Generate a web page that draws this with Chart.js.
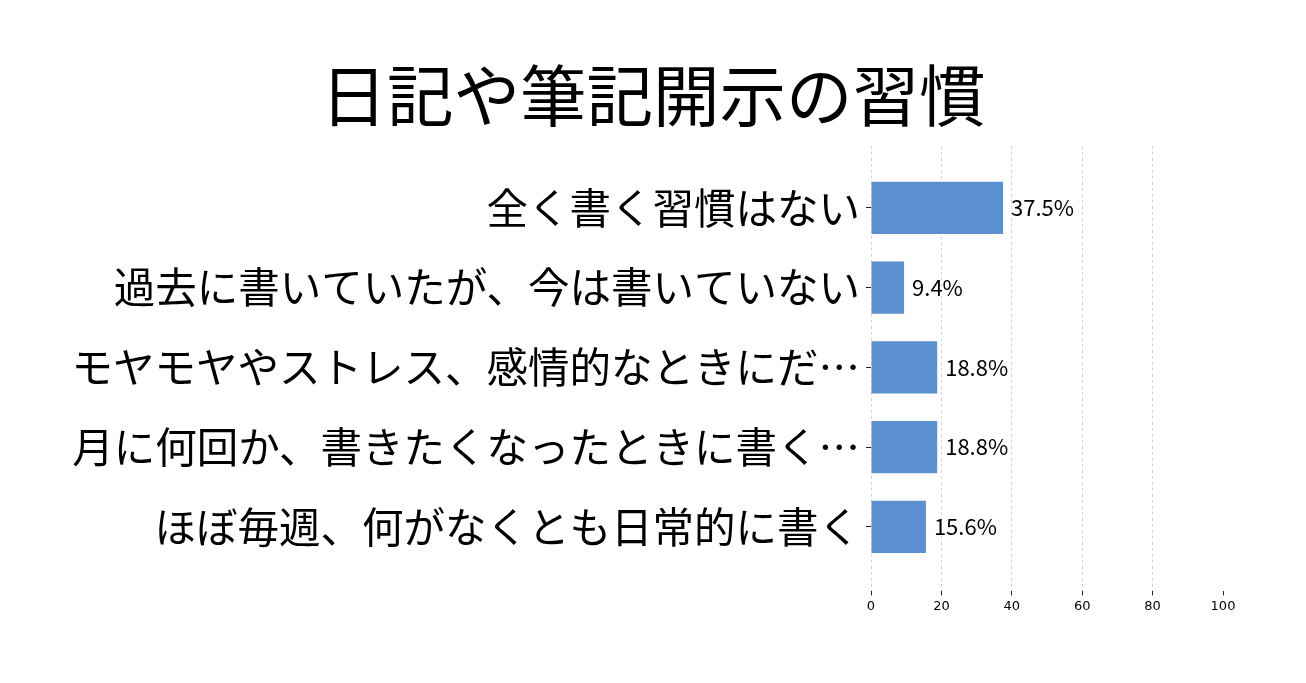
<!DOCTYPE html>
<html>
<head>
<meta charset="utf-8">
<script src="https://cdn.jsdelivr.net/npm/chart.js@4.4.0/dist/chart.umd.min.js"></script>
<style>
  html, body { margin: 0; padding: 0; background: #fff; }
  #wrap { width: 1306px; height: 683px; }
</style>
</head>
<body>
<div id="wrap"><canvas id="habit-chart"></canvas></div>
<script>
// answers, top to bottom
const labelAnswer = [
    "全く書く習慣はない",
    "過去に書いていたが、今は書いていない",
    "モヤモヤやストレス、感情的なときにだ…",
    "月に何回か、書きたくなったときに書く…",
    "ほぼ毎週、何がなくとも日常的に書く"
]
const valuePercent = [37.5, 9.4, 18.8, 18.8, 15.6]
const xTicks = [0, 20, 40, 60, 80, 100]

const jpFont = "'Noto Sans CJK JP', 'Noto Sans', sans-serif"

// value labels at the end of each bar
const barLabels = {
    id: "barLabels",
    afterLayout(chart) {
        // let the long answer labels run past the padding instead of being clipped
        chart.scales.y.left = 0
    },
    afterDatasetsDraw(chart) {
        const ctx = chart.ctx
        const meta = chart.getDatasetMeta(0)
        ctx.save()
        ctx.font = "22px " + jpFont
        ctx.fillStyle = "#000"
        ctx.textAlign = "left"
        ctx.textBaseline = "middle"
        meta.data.forEach((bar, i) => {
            ctx.fillText(valuePercent[i].toFixed(1) + "%", bar.x + 8, bar.y)
        })
        ctx.restore()
    }
}

new Chart("habit-chart", {
    type: "bar",
    data: {
        datasets: [{
            data: valuePercent.map((v, i) => ({ x: v, y: i })),
            backgroundColor: "rgb(91,143,208)",
            borderWidth: 0,
            categoryPercentage: 0.8,
            barPercentage: 0.82
        }]
    },
    options: {
        indexAxis: "y",
        responsive: true,
        maintainAspectRatio: false,
        animation: false,
        layout: { padding: { left: 83, right: 83, top: 50, bottom: 66 } },
        plugins: {
            legend: { display: false },
            tooltip: { enabled: false },
            title: {
                display: true,
                text: "日記や筆記開示の習慣",
                color: "#000",
                font: { family: jpFont, size: 66.5, weight: "normal" },
                padding: { top: 6, bottom: 10 }
            }
        },
        scales: {
            x: {
                type: "linear",
                min: 0,
                max: 100,
                afterBuildTicks: axis => { axis.ticks = xTicks.map(v => ({ value: v })) },
                ticks: {
                    color: "#000",
                    font: { family: "'DejaVu Sans', sans-serif", size: 13 },
                    padding: 3
                },
                grid: {
                    color: c => (c.tick && c.tick.value === 100) ? "rgba(0,0,0,0)" : "#d4d4d4",
                    lineWidth: 1,
                    tickColor: "#222",
                    tickLength: 4
                },
                border: { display: false, dash: [3, 3] }
            },
            y: {
                type: "linear",
                reverse: true,
                offset: false,
                min: -0.78,
                max: 4.81,
                afterBuildTicks: axis => { axis.ticks = labelAnswer.map((l, i) => ({ value: i })) },
                afterFit: axis => { axis.width = 788 },
                ticks: {
                    color: "#000",
                    font: { family: jpFont, size: 41.5 },
                    padding: 6,
                    callback: v => labelAnswer[v]
                },
                grid: {
                    offset: false,
                    drawOnChartArea: false,
                    tickColor: "#222",
                    tickLength: 5
                },
                border: { display: false }
            }
        }
    },
    plugins: [barLabels]
})
</script>
</body>
</html>
